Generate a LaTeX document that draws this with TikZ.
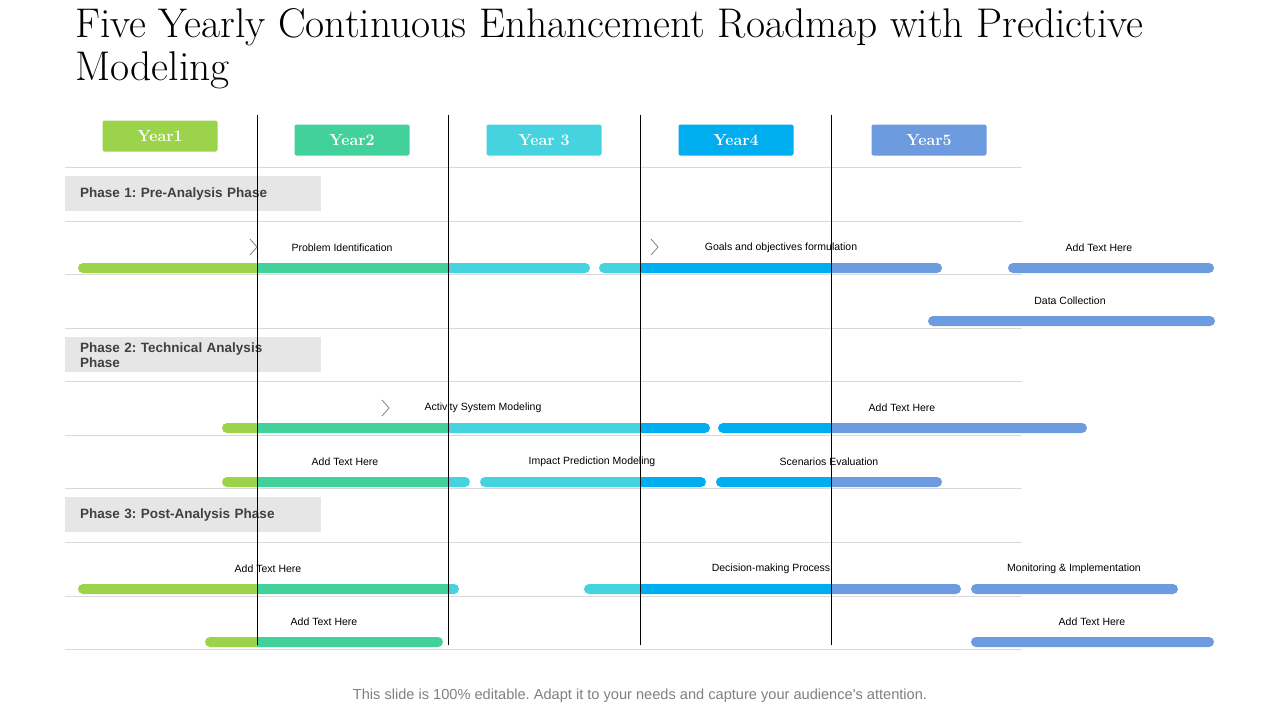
\documentclass[tikz,border=0pt]{standalone}
\usepackage{fontspec}
\newfontfamily\arialfont{Liberation Sans}
\frenchspacing
\definecolor{yrone}{HTML}{9BD34A}
\definecolor{yrtwo}{HTML}{43D19B}
\definecolor{yrthree}{HTML}{45D3E0}
\definecolor{yrfour}{HTML}{00AEEF}
\definecolor{yrfive}{HTML}{6C9BE0}
\definecolor{phasegray}{HTML}{E6E6E6}
\definecolor{rulegray}{HTML}{D9D9D9}
\definecolor{phasetext}{HTML}{404040}

% one road bar, coloured by the year columns it crosses
\newcommand{\roadbar}[3]{%
  \begin{scope}
    \clip[rounded corners=5pt] (#1,#3-5) rectangle (#2,#3+5);
    \fill[yrone] (0,#3-6) rectangle (257,#3+6);
    \fill[yrtwo] (257,#3-6) rectangle (448,#3+6);
    \fill[yrthree] (448,#3-6) rectangle (640,#3+6);
    \fill[yrfour] (640,#3-6) rectangle (831,#3+6);
    \fill[yrfive] (831,#3-6) rectangle (1280,#3+6);
  \end{scope}}

\tikzset{
  yeartab/.style={rounded corners=2pt, text=white, font=\bfseries\fontsize{16}{16}\selectfont, minimum width=115pt, minimum height=31pt, inner sep=0pt},
  phasebox/.style={fill=phasegray, anchor=north west, minimum width=256pt, minimum height=35pt, text width=246pt, align=left, inner sep=0pt, text=phasetext, font=\arialfont\bfseries\fontsize{13.5}{15}\selectfont},
  barlabel/.style={font=\arialfont\fontsize{10.5}{12}\selectfont, inner sep=0pt},
  chev/.style={gray, line width=0.8pt}
}

\begin{document}
\begin{tikzpicture}[x=1pt, y=-1pt]
  \useasboundingbox (0,0) rectangle (1280,720);

  % title
  \node[anchor=west, align=left, font=\fontsize{41.5}{43}\selectfont, inner sep=0pt] (title) at (75,49)
    {Five Yearly Continuous Enhancement Roadmap with Predictive\\Modeling};

  % horizontal rules
  \foreach \y in {167,221,274,328,381,435,488,542,596,649}
    \draw[rulegray, line width=0.8pt] (65,\y) -- (1022,\y);

  % year tabs
  \node[yeartab, fill=yrone] (yr1) at (160,136) {Year1};
  \node[yeartab, fill=yrtwo] (yr2) at (352,140) {Year2};
  \node[yeartab, fill=yrthree] (yr3) at (544,140) {Year 3};
  \node[yeartab, fill=yrfour] (yr4) at (736,140) {Year4};
  \node[yeartab, fill=yrfive] (yr5) at (929,140) {Year5};

  % phase boxes
  \node[phasebox] (ph1) at (65,176) {\hspace*{10pt}Phase 1: Pre-Analysis Phase};
  \node[phasebox] (ph2) at (65,337) {\hspace*{10pt}Phase 2: Technical Analysis\\\hspace*{10pt}Phase};
  \node[phasebox] (ph3) at (65,497) {\hspace*{10pt}Phase 3: Post-Analysis Phase};

  % bars
  \roadbar{78}{590}{268} \roadbar{599}{942}{268} \roadbar{1008}{1214}{268}
  \roadbar{928}{1215}{321}
  \roadbar{222}{710}{428} \roadbar{718}{1087}{428}
  \roadbar{222}{470}{482} \roadbar{480}{706}{482} \roadbar{716}{942}{482}
  \roadbar{78}{459}{589} \roadbar{584}{961}{589} \roadbar{971}{1178}{589}
  \roadbar{205}{443}{642} \roadbar{971}{1214}{642}

  % year dividers
  \foreach \x in {257,448,640,831}
    \draw[black, line width=0.8pt] (\x,115) -- (\x,645);

  % chevrons
  \foreach \x/\y in {250/247,651/247,382/408}
    \draw[chev] (\x,\y-8) -- (\x+7,\y) -- (\x,\y+8);

  % labels
  \node[barlabel] (l1) at (342,248) {Problem Identification};
  \node[barlabel] (l2) at (781,248) {Goals and objectives formulation};
  \node[barlabel] (l3) at (1099,248) {Add Text Here};
  \node[barlabel] (l4) at (1070,301) {Data Collection};
  \node[barlabel] (l5) at (483,408) {Activity System Modeling};
  \node[barlabel] (l6) at (902,408) {Add Text Here};
  \node[barlabel] (l7) at (345,462) {Add Text Here};
  \node[barlabel] (l8) at (592,462) {Impact Prediction Modeling};
  \node[barlabel] (l9) at (829,462) {Scenarios Evaluation};
  \node[barlabel] (l10) at (268,569) {Add Text Here};
  \node[barlabel] (l11) at (771,569) {Decision-making Process};
  \node[barlabel] (l12) at (1074,569) {Monitoring \& Implementation};
  \node[barlabel] (l13) at (324,622) {Add Text Here};
  \node[barlabel] (l14) at (1092,622) {Add Text Here};

  % footer
  \node[font=\arialfont\fontsize{14.6}{16}\selectfont, text=gray] (foot) at (640,696)
    {This slide is 100\% editable. Adapt it to your needs and capture your audience's attention.};
\end{tikzpicture}
\end{document}
